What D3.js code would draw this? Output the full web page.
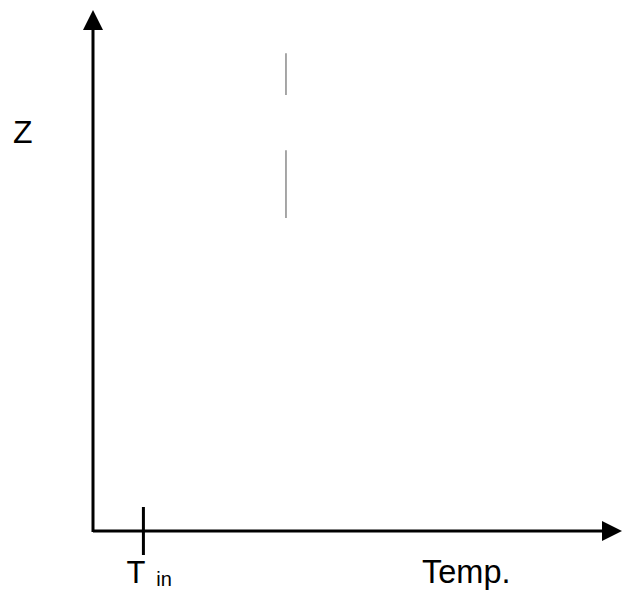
<!DOCTYPE html>
<html>
<head>
<meta charset="utf-8">
<script src="https://cdn.jsdelivr.net/npm/d3@7"></script>
<style>
  body { margin: 0; background: #fff; }
  text { font-family: "Liberation Sans", Arial, sans-serif; fill: #000; }
</style>
</head>
<body>
<svg id="chart"></svg>
<script>
// axis extents (schematic, unitless)
const xDomain = [0, 100]
const yDomain = [0, 100]
// tick on the temperature axis
const xTickValues = [9.7]
const xTickLabels = [{ main: 'T', sub: 'in' }]
// axis titles
const xTitle = 'Temp.'
const yTitle = 'Z'
// faint gray vertical marks (x value, z from, z to)
const markX = [36.6, 36.6]
const markZ0 = [83.7, 60.1]
const markZ1 = [91.7, 73.1]

const width = 635, height = 593

const svg = d3.select('#chart')
              .attr('width', width)
              .attr('height', height)

const x = d3.scaleLinear().domain(xDomain).range([92, 622])
const y = d3.scaleLinear().domain(yDomain).range([531, 10])

// faint marks
svg.append('g')
    .selectAll('line')
    .data(markX)
    .join('line')
        .attr('x1', d => x(d)).attr('x2', d => x(d))
        .attr('y1', (d, i) => y(markZ1[i]))
        .attr('y2', (d, i) => y(markZ0[i]))
        .attr('stroke', '#8a8a8a')
        .attr('stroke-width', 1.5)

// axes lines
svg.append('line')
    .attr('x1', x(0) + 1).attr('x2', x(100) - 18)
    .attr('y1', y(0)).attr('y2', y(0))
    .attr('stroke', '#000').attr('stroke-width', 3)
svg.append('line')
    .attr('x1', x(0) + 1).attr('x2', x(0) + 1)
    .attr('y1', y(0) + 1).attr('y2', y(100) + 18)
    .attr('stroke', '#000').attr('stroke-width', 3)

// arrow heads
const xe = x(100), ye = y(100)
svg.append('path')
    .attr('d', `M${xe},${y(0)} L${xe - 20},${y(0) - 10} L${xe - 20},${y(0) + 10} Z`)
    .attr('fill', '#000')
svg.append('path')
    .attr('d', `M${x(0) + 1},${ye} L${x(0) - 9},${ye + 20} L${x(0) + 11},${ye + 20} Z`)
    .attr('fill', '#000')

// tick with label
const ticks = svg.append('g')
    .selectAll('g')
    .data(xTickValues)
    .join('g')
        .attr('transform', d => `translate(${x(d)},0)`)
ticks.append('line')
    .attr('y1', y(0) - 24).attr('y2', y(0) + 24)
    .attr('stroke', '#000').attr('stroke-width', 3)
const tl = ticks.append('text')
    .attr('x', -17).attr('y', 583)
    .style('font-size', '31px')
tl.append('tspan').text((d, i) => xTickLabels[i].main)
tl.append('tspan')
    .attr('dx', 11).attr('dy', 3)
    .style('font-size', '20px')
    .text((d, i) => xTickLabels[i].sub)

// titles
svg.append('text')
    .attr('x', 422).attr('y', 583)
    .style('font-size', '32.5px')
    .text(xTitle)
svg.append('text')
    .attr('x', 13).attr('y', 143)
    .style('font-size', '32px')
    .text(yTitle)
</script>
</body>
</html>
